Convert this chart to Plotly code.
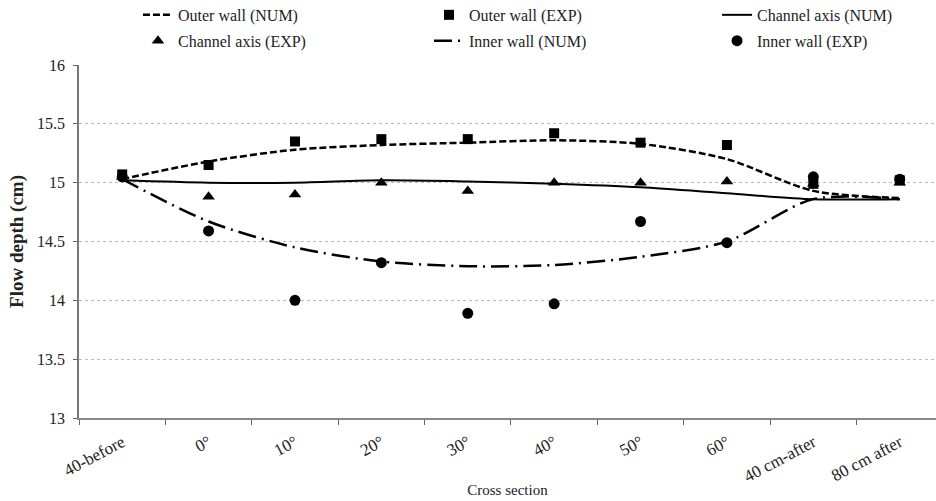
import plotly.graph_objects as go

categories = ["40-before", "0°", "10°", "20°", "30°", "40°", "50°", "60°", "40 cm-after", "80 cm after"]

outer_num = [15.03, 15.18, 15.28, 15.32, 15.34, 15.36, 15.33, 15.20, 14.93, 14.87]
outer_exp = [15.07, 15.15, 15.35, 15.37, 15.37, 15.42, 15.34, 15.32, 14.99, 15.02]
axis_num = [15.02, 15.00, 15.00, 15.02, 15.01, 14.99, 14.96, 14.91, 14.86, 14.86]
axis_exp = [15.05, 14.88, 14.90, 15.00, 14.93, 15.00, 15.00, 15.01, 14.99, 15.00]
inner_num = [15.03, 14.67, 14.45, 14.33, 14.29, 14.30, 14.37, 14.50, 14.86, 14.86]
inner_exp = [15.05, 14.59, 14.00, 14.32, 13.89, 13.97, 14.67, 14.49, 15.05, 15.03]

yticks = [13, 13.5, 14, 14.5, 15, 15.5, 16]
ytick_text = ["13", "13.5", "14", "14.5", "15", "15.5", "16"]

FONT = "Liberation Serif"
TXT = "#222"

fig = go.Figure()
# column 1 legend: Outer wall (NUM), Channel axis (EXP)
# column 2 legend: Outer wall (EXP), Inner wall (NUM)
# column 3 legend: Channel axis (NUM), Inner wall (EXP)
fig.add_trace(go.Scatter(x=categories, y=outer_num, mode="lines", name="Outer wall (NUM)",
                         legend="legend", legendgroup="a", legendrank=1,
                         line=dict(color="black", width=2.5, dash="7px,3px", shape="spline", smoothing=0.8)))
fig.add_trace(go.Scatter(x=categories, y=axis_num, mode="lines", name="Channel axis (NUM)",
                         legend="legend3", legendgroup="e", legendrank=1,
                         line=dict(color="black", width=2, shape="spline", smoothing=0.8)))
fig.add_trace(go.Scatter(x=categories, y=inner_num, mode="lines", name="Inner wall (NUM)",
                         legend="legend2", legendgroup="d", legendrank=2,
                         line=dict(color="black", width=2.5, dash="18px,6px,2px,6px", shape="spline", smoothing=0.8)))
fig.add_trace(go.Scatter(x=categories, y=outer_exp, mode="markers", name="Outer wall (EXP)",
                         legend="legend2", legendgroup="c", legendrank=1,
                         marker=dict(symbol="square", size=10, color="black")))
fig.add_trace(go.Scatter(x=categories, y=axis_exp, mode="markers", name="Channel axis (EXP)",
                         legend="legend", legendgroup="b", legendrank=2,
                         marker=dict(symbol="triangle-up", size=11, color="black")))
fig.add_trace(go.Scatter(x=categories, y=inner_exp, mode="markers", name="Inner wall (EXP)",
                         legend="legend3", legendgroup="f", legendrank=2,
                         marker=dict(symbol="circle", size=11, color="black")))

leg_common = dict(orientation="v", yanchor="top", y=1.19, xanchor="left",
                  font=dict(family=FONT, size=16, color=TXT), tracegroupgap=2,
                  bgcolor="rgba(0,0,0,0)", traceorder="grouped")

fig.update_layout(
    width=936, height=501,
    margin=dict(l=79, r=0, t=65, b=83, autoexpand=False),
    paper_bgcolor="white", plot_bgcolor="white",
    font=dict(family=FONT, size=15, color=TXT),
    showlegend=True,
    legend=dict(x=0.0688, **leg_common),
    legend2=dict(x=0.4084, **leg_common),
    legend3=dict(x=0.7445, **leg_common),
    xaxis=dict(
        type="category", range=[-0.5, 9.42], automargin=False,
        tickson="boundaries", ticks="outside", ticklen=5, tickcolor="#666", tickwidth=1,
        tickangle=-28, ticklabelstandoff=6, tickfont=dict(family=FONT, size=17, color=TXT),
        showline=True, linecolor="#888", linewidth=2, showgrid=False,
        title=dict(text="Cross section", font=dict(family=FONT, size=15, color=TXT), standoff=0),
    ),
    yaxis=dict(
        range=[13, 16], tickvals=yticks, ticktext=ytick_text, automargin=False,
        ticks="outside", ticklen=4, tickcolor="#666", ticklabelstandoff=5,
        showline=True, linecolor="#777", linewidth=1.5,
        showgrid=True, gridcolor="#bbb", griddash="dot", gridwidth=1,
        zeroline=False, tickfont=dict(family=FONT, size=16, color=TXT),
        title=dict(text="<b>Flow depth (cm)</b>", font=dict(family=FONT, size=19, color=TXT), standoff=8),
    ),
)

fig.write_html("out.html")
